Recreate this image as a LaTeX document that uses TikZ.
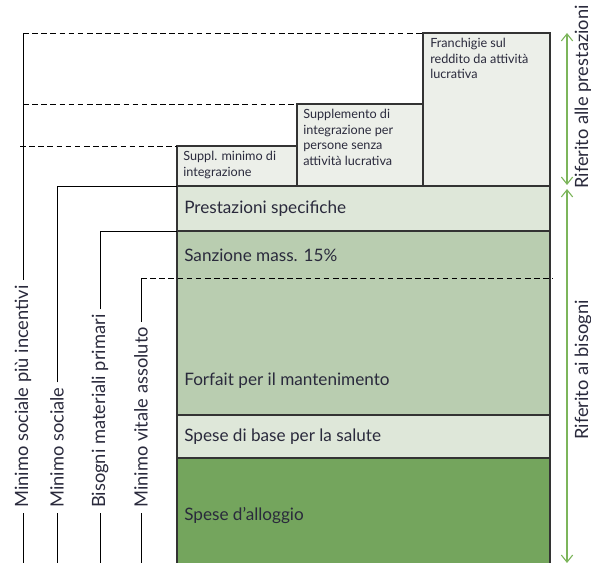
\documentclass[tikz,border=0pt]{standalone}
\usepackage{fontspec}
\setmainfont{Lato}
\usepackage{tikz}
\usepackage{xcolor}
\usetikzlibrary{positioning,arrows.meta,calc}
\definecolor{lightbox}{HTML}{ECEFE9}
\definecolor{paleGreen}{HTML}{DEE7D9}
\definecolor{midGreen}{HTML}{B9CDB0}
\definecolor{darkGreen}{HTML}{74A55D}
\definecolor{arrowGreen}{HTML}{7CB55B}
\definecolor{ink}{HTML}{2A2A3C}
\tikzset{
  boxline/.style={draw=black!80, line width=0.9pt},
  bigtext/.style={anchor=west, text=ink, font=\fontsize{12.2}{14}\selectfont, inner sep=0pt},
  smalltext/.style={anchor=north west, align=left, text=ink, font=\fontsize{9}{11}\selectfont, inner sep=0pt},
  sidelabel/.style={rotate=90, anchor=west, text=ink, font=\fontsize{13}{15}\selectfont, inner xsep=3.5pt},
  bracket/.style={black, line width=0.7pt},
  guide/.style={black, line width=0.7pt, dash pattern=on 4pt off 2.5pt},
  spanarrow/.style={arrowGreen, line width=0.8pt, {Straight Barb[length=5pt,width=8pt]}-{Straight Barb[length=5pt,width=8pt]}}
}

\begin{document}
\begin{tikzpicture}[x=0.025cm, y=-0.025cm]
    \useasboundingbox (0,0) rectangle (591,563);

    % Fill the blocks
    \fill[lightbox] (177,146) rectangle (297,186);
    \fill[lightbox] (297,104) rectangle (423,186);
    \fill[lightbox] (423,33) rectangle (550,186);
    \fill[paleGreen] (177,186) rectangle (550,231);
    \fill[midGreen] (177,231) rectangle (550,415);
    \fill[paleGreen] (177,415) rectangle (550,458);
    \fill[darkGreen] (177,458) rectangle (550,563);

    % Block borders
    \draw[boxline] (177,563) -- (177,146) -- (297,146) -- (297,104) -- (423,104) -- (423,33) -- (550,33) -- (550,563);
    \draw[boxline] (297,146) -- (297,186);
    \draw[boxline] (423,104) -- (423,186);
    \draw[boxline] (177,186) -- (550,186);
    \draw[boxline] (177,231) -- (550,231);
    \draw[boxline] (177,415) -- (550,415);
    \draw[boxline] (177,458) -- (550,458);

    % Texts in the blocks
    \node[smalltext] (suppl) at (183,151) {Suppl. minimo di\\integrazione};
    \node[smalltext] (suppers) at (303,109) {Supplemento di\\integrazione per\\persone senza\\attività lucrativa};
    \node[smalltext] (franch) at (430,38) {Franchigie sul\\reddito da attività\\lucrativa};
    \node[bigtext] (prest) at (184,209) {Prestazioni specifiche};
    \node[bigtext] (sanz) at (184,255) {Sanzione mass. 15\%};
    \node[bigtext] (forf) at (184,381) {Forfait per il mantenimento};
    \node[bigtext] (salute) at (184,437) {Spese di base per la salute};
    \node[bigtext] (alloggio) at (184,516) {Spese d’alloggio};

    % Brackets on the left
    \node[sidelabel] (socinc) at (23,513) {Minimo sociale più incentivi};
    \coordinate (socincTop) at (23,33);
    \draw[bracket] (socinc.east) -- (socincTop);
    \draw[bracket] (socinc.west) -- (23,563);
    \draw[guide] (socincTop) -- (423,33);
    \draw[guide] (23,104) -- (297,104);
    \draw[guide] (20,146) -- (177,146);

    \node[sidelabel] (soc) at (57,513) {Minimo sociale};
    \coordinate (socTop) at (57,186);
    \draw[bracket] (soc.east) -- (socTop) -- (177,186);
    \draw[bracket] (soc.west) -- (57,563);

    \node[sidelabel] (bisogni) at (100,513) {Bisogni materiali primari};
    \coordinate (bisTop) at (100,231);
    \draw[bracket] (bisogni.east) -- (bisTop) -- (177,231);
    \draw[bracket] (bisogni.west) -- (100,563);

    \node[sidelabel] (vitale) at (141,513) {Minimo vitale assoluto};
    \coordinate (vitTop) at (141,278);
    \draw[bracket] (vitale.east) -- (vitTop);
    \draw[guide] (vitTop) -- (553,278);
    \draw[bracket] (vitale.west) -- (141,563);

    % Green arrows on the right
    \coordinate (prA) at (567,33);
    \coordinate (prB) at (567,185);
    \coordinate (biA) at (567,189);
    \coordinate (biB) at (567,563);
    \draw[spanarrow] (prA) -- (prB);
    \draw[spanarrow] (biA) -- (biB);
    \node[rotate=90, text=ink, font=\fontsize{13}{15}\selectfont] (rifprest) at (583,97) {Riferito alle prestazioni};
    \node[rotate=90, text=ink, font=\fontsize{13}{15}\selectfont] (rifbis) at (583,370) {Riferito ai bisogni};
\end{tikzpicture}
\end{document}
